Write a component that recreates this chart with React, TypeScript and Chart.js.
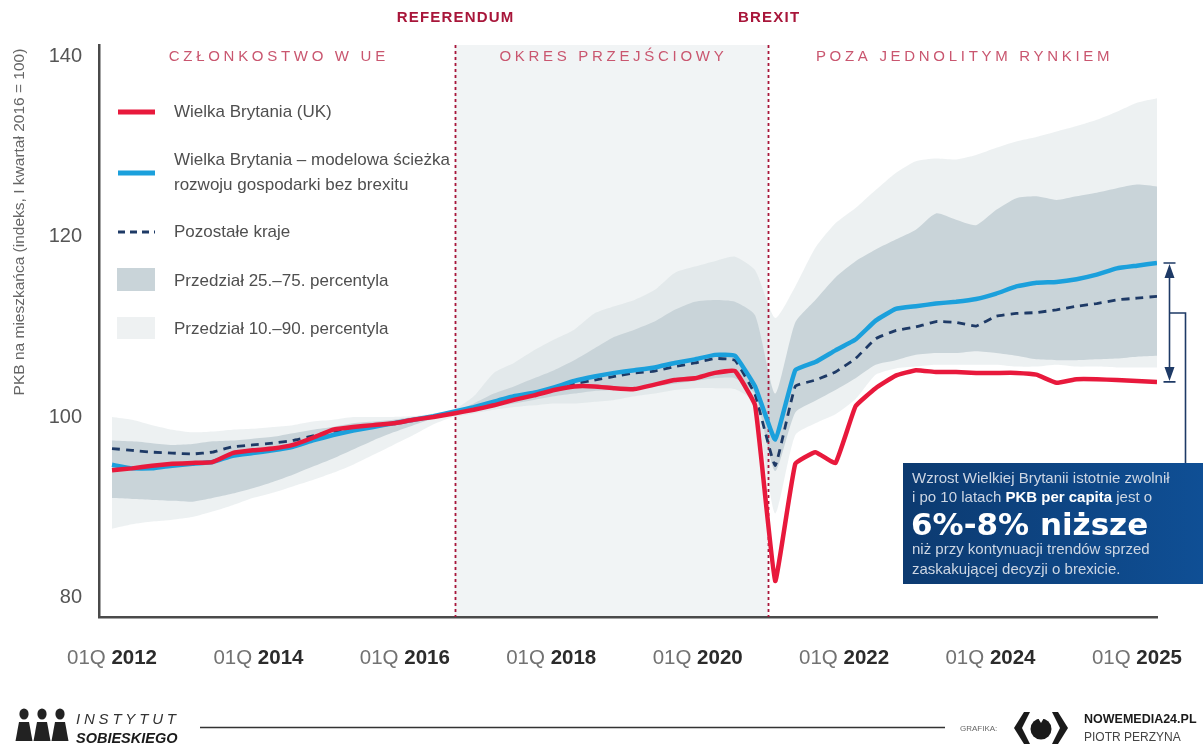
import React, { useEffect, useRef } from "react";
import { Chart, registerables } from "chart.js";

Chart.register(...registerables);

// ---------------- data ----------------
// quarterly observations, 2012Q1 .. 2025Q1 (index 0 .. 52)
const QUARTERS: string[] = [];
for (let i = 0; i < 53; i++) QUARTERS.push(`${2012 + Math.floor(i / 4)}Q${(i % 4) + 1}`);

const UK = [
  94.1, 94.3, 94.6, 94.8, 94.9, 95.0, 96.0, 96.3, 96.5, 96.9,
  97.7, 98.6, 98.9, 99.1, 99.3, 99.7, 100.0, 100.4, 100.8, 101.3,
  101.9, 102.4, 103.0, 103.4, 103.4, 103.2, 103.1, 103.6, 104.1, 104.3,
  104.9, 105.1, 101.3, 81.8, 94.8, 96.1, 94.9, 101.2, 103.2, 104.6,
  105.2, 105.0, 105.0, 104.9, 104.9, 104.9, 104.7, 103.8, 104.2, 104.2,
  104.1, 104.0, 103.9,
];
const UK_NO_BREXIT = [
  94.7, 94.3, 94.3, 94.6, 94.8, 95.0, 95.7, 96.0, 96.3, 96.7,
  97.4, 98.0, 98.5, 98.9, 99.3, 99.7, 100.1, 100.6, 101.1, 101.7,
  102.3, 102.7, 103.3, 104.0, 104.5, 104.9, 105.2, 105.5, 106.0, 106.4,
  106.9, 106.8, 103.4, 97.5, 105.2, 106.1, 107.4, 108.6, 110.7, 112.0,
  112.3, 112.6, 112.8, 113.1, 113.7, 114.5, 114.9, 115.0, 115.3, 115.8,
  116.5, 116.8, 117.1,
];
const OTHERS = [
  96.5, 96.3, 96.1, 96.0, 95.9, 96.1, 96.7, 96.9, 97.1, 97.4,
  97.9, 98.4, 98.7, 99.0, 99.3, 99.7, 100.1, 100.5, 101.0, 101.5,
  102.1, 102.6, 103.2, 103.7, 104.1, 104.5, 104.9, 105.1, 105.6, 106.0,
  106.5, 106.3, 102.5, 94.6, 103.4, 104.1, 105.0, 106.5, 108.7, 109.6,
  110.0, 110.6, 110.5, 110.1, 111.2, 111.5, 111.6, 111.9, 112.3, 112.6,
  113.0, 113.2, 113.4,
];
const P75 = [
  97.4, 97.3, 97.1, 96.9, 97.0, 97.3, 97.4, 97.6, 97.8, 98.2,
  98.6, 98.9, 99.3, 99.5, 99.7, 100.0, 100.2, 100.6, 101.5, 102.6,
  103.4, 104.3, 105.2, 106.3, 107.6, 108.9, 109.7, 110.6, 111.9, 112.8,
  113.0, 112.8, 111.3, 102.6, 110.5, 113.0, 115.5, 117.3, 118.6, 119.7,
  120.8, 122.6, 121.9, 121.3, 123.0, 124.3, 124.5, 124.1, 124.5, 124.9,
  125.4, 125.8, 125.6,
];
const P25 = [
  91.0, 90.9, 90.8, 90.7, 90.6, 91.0, 91.5, 92.1, 92.8, 93.6,
  94.5, 95.4, 96.4, 97.4, 98.3, 99.1, 99.8, 100.3, 100.7, 101.1,
  101.5, 101.9, 102.3, 102.6, 102.9, 103.0, 103.2, 103.4, 103.7, 104.0,
  104.3, 104.3, 102.5, 94.0, 100.5, 101.8, 103.0, 104.3, 105.8, 106.3,
  106.9, 107.1, 107.1, 107.3, 107.1, 106.8, 106.4, 106.3, 106.3, 106.4,
  106.5, 106.7, 106.8,
];
const P90 = [
  100.0, 99.7, 99.1, 98.6, 98.3, 98.4, 98.6, 98.7, 98.9, 99.1,
  99.5, 99.7, 100.0, 100.0, 100.0, 100.1, 100.4, 100.8, 102.3, 104.9,
  106.0, 107.4, 108.6, 109.7, 111.5, 112.3, 113.0, 114.1, 116.0, 116.7,
  117.3, 117.8, 116.3, 111.0, 114.5, 118.8, 121.5, 123.2, 125.2, 127.1,
  128.4, 128.7, 128.6, 129.1, 129.9, 130.6, 131.1, 131.7, 132.3, 133.0,
  133.9, 134.9, 135.4,
];
const P10 = [
  87.6, 88.1, 88.4, 88.6, 88.9, 89.5, 90.2, 91.0, 91.6, 92.3,
  93.0, 93.8, 94.7, 95.8, 96.9, 98.0, 99.2, 100.0, 100.4, 100.8,
  101.1, 101.3, 101.5, 101.5, 101.7, 101.9, 102.3, 102.6, 103.0, 103.2,
  103.2, 103.1, 101.5, 89.3, 98.0, 99.3, 100.3, 102.0, 104.7, 105.4,
  105.6, 105.8, 105.8, 105.8, 105.8, 105.6, 105.6, 105.8, 105.6, 105.6,
  105.5, 105.5, 105.5,
];

const X_TICK_PREFIX = "01Q";
const X_TICK_YEARS = ["2012", "2014", "2016", "2018", "2020", "2022", "2024", "2025"];
const X_TICK_LAST = 51; // quarter index of the last printed tick label
const Y_TICKS = [80, 100, 120, 140];

const REFERENDUM_Q = 17.05;
const BREXIT_Q = 32.65;
const EVENT_LABELS = ["REFERENDUM", "BREXIT"];
const PERIOD_LABELS = ["CZŁONKOSTWO W UE", "OKRES PRZEJŚCIOWY", "POZA JEDNOLITYM RYNKIEM"];

const LABEL_UK = "Wielka Brytania (UK)";
const LABEL_NO_BREXIT = ["Wielka Brytania \u2013 modelowa ścieżka", "rozwoju gospodarki bez brexitu"];
const LABEL_OTHERS = "Pozostałe kraje";
const LABEL_P25_75 = "Przedział 25.\u201375. percentyla";
const LABEL_P10_90 = "Przedział 10.\u201390. percentyla";
const Y_TITLE = "PKB na mieszkańca (indeks, I kwartał 2016 = 100)";

const NOTE_LINE1 = "Wzrost Wielkiej Brytanii istotnie zwolnił";
const NOTE_LINE2 = ["i po 10 latach ", "PKB per capita", " jest o"];
const NOTE_BIG = "6%-8% niższe";
const NOTE_LINE4 = "niż przy kontynuacji trendów sprzed";
const NOTE_LINE5 = "zaskakującej decyzji o brexicie.";

// ---------------- style ----------------
const FONT = '"Liberation Sans", Arial, Helvetica, sans-serif';
const RED = "#e8193c";
const BLUE = "#1ba0dc";
const NAVY = "#1e3a66";
const DARK_BAND = "#c9d4d9";
const LIGHT_BAND = "rgba(190,204,210,0.28)";
const TRANSITION_BG = "#f1f4f5";
const EVENT_COLOR = "#a8163a";
const PERIOD_COLOR = "#c9566f";
const AXIS_COLOR = "#4a4a4a";

const pts = (arr: number[]) => arr.map((v, i) => ({ x: i, y: v }));

function drawEventLines(chart: any) {
  const { ctx, chartArea: a, scales } = chart;
  ctx.save();
  ctx.strokeStyle = EVENT_COLOR;
  ctx.lineWidth = 1.8;
  ctx.setLineDash([3, 3]);
  for (const q of [REFERENDUM_Q, BREXIT_Q]) {
    const px = Math.round(scales.x.getPixelForValue(q)) + 0.5;
    ctx.beginPath();
    ctx.moveTo(px, a.top);
    ctx.lineTo(px, a.bottom);
    ctx.stroke();
  }
  ctx.restore();
}

function drawPerson(ctx: any, cx: number) {
  ctx.beginPath();
  ctx.ellipse(cx, 714, 4.6, 5.6, 0, 0, Math.PI * 2);
  ctx.fill();
  ctx.beginPath();
  ctx.moveTo(cx - 5, 722);
  ctx.lineTo(cx + 5, 722);
  ctx.lineTo(cx + 8.5, 741);
  ctx.lineTo(cx - 8.5, 741);
  ctx.closePath();
  ctx.fill();
}

const decorPlugin = {
  id: "decor",
  beforeDraw(chart: any) {
    const { ctx, chartArea: a, scales } = chart;
    ctx.save();
    ctx.fillStyle = "#ffffff";
    ctx.fillRect(0, 0, chart.width, chart.height);
    const x1 = scales.x.getPixelForValue(REFERENDUM_Q);
    const x2 = scales.x.getPixelForValue(BREXIT_Q);
    ctx.fillStyle = TRANSITION_BG;
    ctx.fillRect(x1, a.top, x2 - x1, a.bottom - a.top);
    ctx.restore();
  },
  afterDatasetDraw(chart: any, args: any) {
    if (args.index === 3) drawEventLines(chart);
  },
  afterDraw(chart: any) {
    const { ctx, chartArea: a, scales } = chart;
    const x = scales.x;
    const y = scales.y;
    const xRef = x.getPixelForValue(REFERENDUM_Q);
    const xBrx = x.getPixelForValue(BREXIT_Q);
    ctx.save();

    // event labels
    ctx.textBaseline = "middle";
    ctx.textAlign = "center";
    ctx.fillStyle = EVENT_COLOR;
    ctx.font = `bold 15px ${FONT}`;
    ctx.letterSpacing = "1.2px";
    ctx.fillText(EVENT_LABELS[0], xRef + 1, 18);
    ctx.fillText(EVENT_LABELS[1], xBrx + 1, 18);

    // period labels
    ctx.font = `15px ${FONT}`;
    ctx.letterSpacing = "3.7px";
    ctx.fillStyle = PERIOD_COLOR;
    const bounds = [a.left, xRef, xBrx, a.right];
    PERIOD_LABELS.forEach((t, i) => ctx.fillText(t, (bounds[i] + bounds[i + 1]) / 2 + 2, 57));
    ctx.letterSpacing = "0px";

    // y title
    ctx.save();
    ctx.translate(20, 222);
    ctx.rotate(-Math.PI / 2);
    ctx.font = `15.5px ${FONT}`;
    ctx.fillStyle = "#666";
    ctx.fillText(Y_TITLE, 0, 0);
    ctx.restore();

    // x tick labels ("01Q" regular + year bold)
    const n = X_TICK_YEARS.length;
    X_TICK_YEARS.forEach((yr, k) => {
      const cx = x.getPixelForValue((k * X_TICK_LAST) / (n - 1));
      ctx.font = `20.5px ${FONT}`;
      const w1 = ctx.measureText(X_TICK_PREFIX + " ").width;
      ctx.font = `bold 20.5px ${FONT}`;
      const w2 = ctx.measureText(yr).width;
      const left = cx - (w1 + w2) / 2;
      ctx.textAlign = "left";
      ctx.font = `20.5px ${FONT}`;
      ctx.fillStyle = "#727272";
      ctx.fillText(X_TICK_PREFIX + " ", left, 658);
      ctx.font = `bold 20.5px ${FONT}`;
      ctx.fillStyle = "#2b2b2b";
      ctx.fillText(yr, left + w1, 658);
    });

    // legend
    const ds = chart.data.datasets;
    const lx = 118;
    const lw = 37;
    const tx = 174;
    ctx.textAlign = "left";
    ctx.font = `17px ${FONT}`;
    ctx.lineCap = "butt";
    ctx.strokeStyle = ds[0].borderColor;
    ctx.lineWidth = 5;
    ctx.beginPath(); ctx.moveTo(lx, 112); ctx.lineTo(lx + lw, 112); ctx.stroke();
    ctx.strokeStyle = ds[1].borderColor;
    ctx.beginPath(); ctx.moveTo(lx, 173); ctx.lineTo(lx + lw, 173); ctx.stroke();
    ctx.strokeStyle = ds[2].borderColor;
    ctx.lineWidth = 3;
    ctx.setLineDash([7, 5]);
    ctx.beginPath(); ctx.moveTo(lx, 232); ctx.lineTo(lx + lw, 232); ctx.stroke();
    ctx.setLineDash([]);
    ctx.fillStyle = DARK_BAND;
    ctx.fillRect(lx - 1, 268, lw + 1, 23);
    ctx.fillStyle = "#eef1f2";
    ctx.fillRect(lx - 1, 317, lw + 1, 22);
    ctx.fillStyle = "#4f4f4f";
    ctx.fillText(LABEL_UK, tx, 112);
    ctx.fillText(LABEL_NO_BREXIT[0], tx, 160);
    ctx.fillText(LABEL_NO_BREXIT[1], tx, 185);
    ctx.fillText(LABEL_OTHERS, tx, 232);
    ctx.fillText(LABEL_P25_75, tx, 281);
    ctx.fillText(LABEL_P10_90, tx, 329);

    // bracket between the two UK paths at the last quarter
    const last = UK.length - 1;
    const ty = y.getPixelForValue(UK_NO_BREXIT[last]);
    const by = y.getPixelForValue(UK[last]);
    const bx = a.right + 12.5;
    ctx.strokeStyle = NAVY;
    ctx.fillStyle = NAVY;
    ctx.lineWidth = 1.6;
    ctx.beginPath();
    ctx.moveTo(bx - 6, ty); ctx.lineTo(bx + 6, ty);
    ctx.moveTo(bx - 6, by); ctx.lineTo(bx + 6, by);
    ctx.moveTo(bx, ty + 12); ctx.lineTo(bx, by - 12);
    const my = ty + (by - ty) * 0.42;
    ctx.moveTo(bx, my); ctx.lineTo(bx + 16, my); ctx.lineTo(bx + 16, 463);
    ctx.stroke();
    ctx.beginPath();
    ctx.moveTo(bx, ty + 1); ctx.lineTo(bx + 5, ty + 15); ctx.lineTo(bx - 5, ty + 15); ctx.closePath();
    ctx.moveTo(bx, by - 1); ctx.lineTo(bx + 5, by - 15); ctx.lineTo(bx - 5, by - 15); ctx.closePath();
    ctx.fill();

    // note box
    const bxl = 903, bxt = 463, bw = 300, bh = 121;
    const g = ctx.createLinearGradient(bxl, 0, bxl + bw, 0);
    g.addColorStop(0, "#0c3a70");
    g.addColorStop(1, "#0f4f95");
    ctx.fillStyle = g;
    ctx.fillRect(bxl, bxt, bw, bh);
    ctx.textBaseline = "alphabetic";
    ctx.font = `15px ${FONT}`;
    ctx.fillStyle = "#cdd6e3";
    ctx.fillText(NOTE_LINE1, 912, 483);
    let cx2 = 912;
    ctx.fillText(NOTE_LINE2[0], cx2, 502);
    cx2 += ctx.measureText(NOTE_LINE2[0]).width;
    ctx.font = `bold 15px ${FONT}`;
    ctx.fillStyle = "#ffffff";
    ctx.fillText(NOTE_LINE2[1], cx2, 502);
    cx2 += ctx.measureText(NOTE_LINE2[1]).width;
    ctx.font = `15px ${FONT}`;
    ctx.fillStyle = "#cdd6e3";
    ctx.fillText(NOTE_LINE2[2], cx2, 502);
    ctx.font = `bold 31px "DejaVu Sans", ${FONT}`;
    ctx.fillStyle = "#ffffff";
    ctx.fillText(NOTE_BIG, 911, 535);
    ctx.font = `15px ${FONT}`;
    ctx.fillStyle = "#cdd6e3";
    ctx.fillText(NOTE_LINE4, 912, 554);
    ctx.fillText(NOTE_LINE5, 912, 574);

    // footer
    ctx.strokeStyle = "#333";
    ctx.lineWidth = 1.5;
    ctx.beginPath(); ctx.moveTo(200, 727.5); ctx.lineTo(945, 727.5); ctx.stroke();
    ctx.fillStyle = "#222";
    drawPerson(ctx, 24);
    drawPerson(ctx, 42);
    drawPerson(ctx, 60);
    ctx.font = `italic 15px ${FONT}`;
    ctx.letterSpacing = "3.8px";
    ctx.fillStyle = "#333";
    ctx.fillText("INSTYTUT", 76, 724);
    ctx.letterSpacing = "0px";
    ctx.font = `italic bold 14.5px ${FONT}`;
    ctx.fillStyle = "#1a1a1a";
    ctx.fillText("SOBIESKIEGO", 76, 743);
    ctx.font = `8px ${FONT}`;
    ctx.fillStyle = "#666";
    ctx.fillText("GRAFIKA:", 960, 731);
    // eye logo
    ctx.fillStyle = "#1a1a1a";
    ctx.beginPath();
    ctx.moveTo(1024, 712); ctx.lineTo(1014, 728); ctx.lineTo(1024, 744);
    ctx.lineTo(1030, 744); ctx.lineTo(1022, 728); ctx.lineTo(1030, 712); ctx.closePath();
    ctx.moveTo(1058, 712); ctx.lineTo(1068, 728); ctx.lineTo(1058, 744);
    ctx.lineTo(1052, 744); ctx.lineTo(1060, 728); ctx.lineTo(1052, 712); ctx.closePath();
    ctx.fill();
    ctx.beginPath();
    ctx.arc(1041, 729, 10.5, 0, Math.PI * 2);
    ctx.fill();
    ctx.fillStyle = "#fff";
    ctx.beginPath();
    ctx.moveTo(1037.5, 717); ctx.lineTo(1044.5, 717); ctx.lineTo(1041, 723); ctx.closePath();
    ctx.fill();
    ctx.fillStyle = "#1a1a1a";
    ctx.font = `bold 12.5px ${FONT}`;
    ctx.fillText("NOWEMEDIA24.PL", 1084, 723);
    ctx.font = `12px ${FONT}`;
    ctx.fillStyle = "#444";
    ctx.fillText("PIOTR PERZYNA", 1084, 741);

    ctx.restore();
  },
};

export default function App() {
  const ref = useRef<HTMLCanvasElement>(null);
  useEffect(() => {
    document.body.style.margin = "0";
    const band = { pointRadius: 0, borderWidth: 0, tension: 0.2 };
    const line = { pointRadius: 0, tension: 0.1, fill: false, borderJoinStyle: "round" };
    const chart = new Chart(ref.current as HTMLCanvasElement, {
      type: "line",
      data: {
        labels: QUARTERS,
        datasets: [
          { label: LABEL_UK, data: pts(UK), borderColor: RED, borderWidth: 4.5, ...line },
          { label: LABEL_NO_BREXIT.join(" "), data: pts(UK_NO_BREXIT), borderColor: BLUE, borderWidth: 4.5, ...line },
          { label: LABEL_OTHERS, data: pts(OTHERS), borderColor: NAVY, borderWidth: 2.8, borderDash: [8, 6], ...line },
          { label: LABEL_P25_75, data: pts(P75), backgroundColor: DARK_BAND, fill: "+1", ...band },
          { label: "P25", data: pts(P25), fill: false, ...band },
          { label: LABEL_P10_90, data: pts(P90), backgroundColor: LIGHT_BAND, fill: "+1", ...band },
          { label: "P10", data: pts(P10), fill: false, ...band },
        ],
      } as any,
      options: {
        responsive: false,
        animation: false,
        events: [],
        layout: { padding: { top: 45, right: 46, left: 0, bottom: 0 } },
        plugins: { legend: { display: false }, tooltip: { enabled: false }, title: { display: false } },
        scales: {
          x: {
            type: "linear",
            min: -0.647,
            max: 52,
            ticks: { display: false },
            grid: { display: false, drawTicks: false },
            border: { display: true, color: AXIS_COLOR, width: 2.5 },
            afterFit: (s: any) => { s.height = 127; },
          },
          y: {
            min: 77.8,
            max: 141.3,
            afterBuildTicks: (s: any) => { s.ticks = Y_TICKS.map((v) => ({ value: v })); },
            ticks: { font: { family: FONT, size: 20 }, color: "#555", padding: 17 },
            grid: { display: false, drawTicks: false },
            border: { display: true, color: AXIS_COLOR, width: 2.5 },
            afterFit: (s: any) => { s.width = 99; },
          },
        },
      } as any,
      plugins: [decorPlugin],
    });
    return () => chart.destroy();
  }, []);
  return (
    <div style={{ width: 1203, height: 744, background: "#fff" }}>
      <canvas ref={ref} width={1203} height={744} style={{ display: "block" }} />
    </div>
  );
}
